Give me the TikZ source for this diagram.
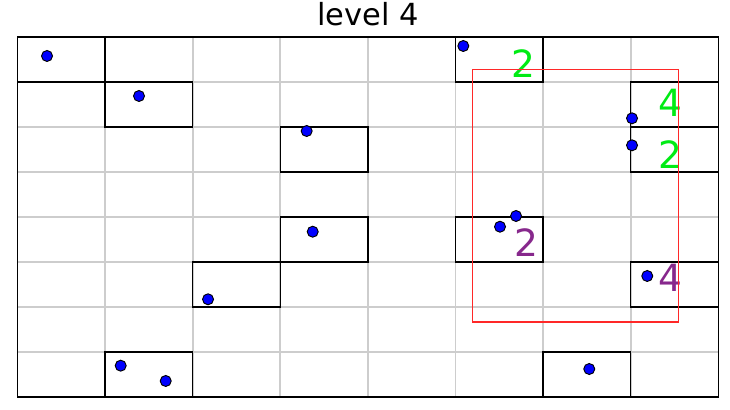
\documentclass[tikz,border=0pt]{standalone}
\usepackage{fontspec}
\setmainfont{DejaVu Sans}
\usetikzlibrary{positioning}
\definecolor{gridgray}{RGB}{205,205,205}
\definecolor{ptblue}{RGB}{0,0,255}
\definecolor{cntgreen}{RGB}{0,235,20}
\definecolor{cntpurple}{RGB}{135,40,140}
\definecolor{queryred}{RGB}{255,40,40}

\begin{document}
\begin{tikzpicture}[
    x=2.628cm, y=1.35cm,
    gridline/.style={draw=gridgray, line width=1.4pt},
    cellbox/.style={draw=black, line width=1.3pt},
    querybox/.style={draw=queryred, line width=1.3pt},
    pointdot/.style={circle, draw=black, fill=ptblue, line width=0.8pt,
        minimum size=0.33cm, inner sep=0pt},
    cnt/.style={font=\fontsize{32}{32}\selectfont, inner sep=0pt},
    title/.style={font=\fontsize{26}{26}\selectfont, inner sep=0pt},
]
\useasboundingbox (-0.1998,-0.2889) rectangle (8.1336,8.8222);

% === TITLE ===
\node[title] (caption) at (4.0,8.512) {level 4};

% === GRID ===
\foreach \i in {1,...,7} {
    \draw[gridline] (\i,0) -- (\i,8);
    \draw[gridline] (0,\i) -- (8,\i);
}
\draw[cellbox] (0,0) rectangle (8,8);

% === OCCUPIED CELLS ===
\foreach \c/\r in {0/7,1/6,3/5,3/3,2/2,1/0,5/7,7/6,7/5,5/3,7/2,6/0}
    \draw[cellbox] (\c,\r) rectangle ++(1,1);

% === POINTS ===
\foreach \x/\y [count=\k] in {0.337/7.578, 1.387/6.689, 3.301/5.911,
        3.370/3.673, 2.175/2.171, 1.178/0.696, 1.692/0.356, 5.089/7.800,
        7.015/6.193, 7.015/5.593, 5.691/4.022, 5.508/3.784, 7.189/2.689,
        6.527/0.622}
    \node[pointdot] (p\k) at (\x,\y) {};

% === COUNTS ===
\node[cnt, text=cntgreen] (g1) at (5.771,7.40) {2};
\node[cnt, text=cntgreen] (g2) at (7.449,6.533) {4};
\node[cnt, text=cntgreen] (g3) at (7.449,5.378) {2};
\node[cnt, text=cntpurple] (m1) at (5.805,3.422) {2};
\node[cnt, text=cntpurple] (m2) at (7.449,2.644) {4};

% === QUERY WINDOW ===
\coordinate (qsw) at (5.196,1.667);
\coordinate (qne) at (7.548,7.282);
\draw[querybox] (qsw) rectangle (qne);

\end{tikzpicture}
\end{document}
